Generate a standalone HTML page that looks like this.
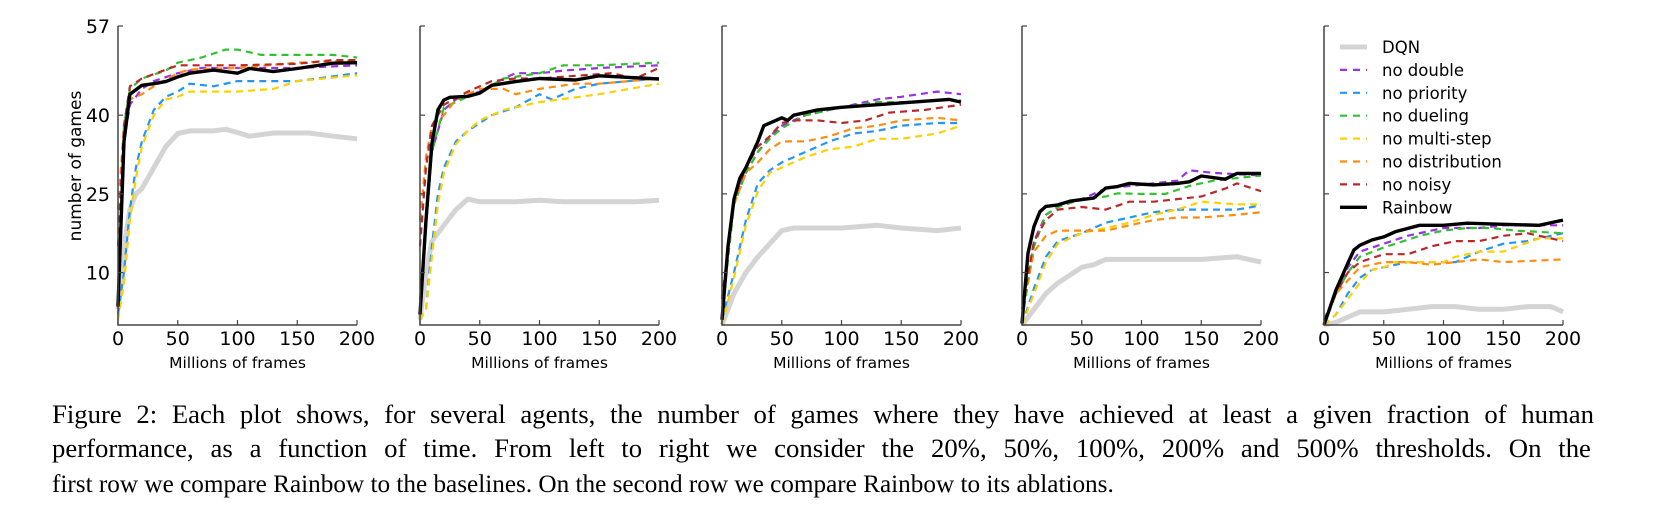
<!DOCTYPE html>
<html><head><meta charset="utf-8"><style>
html,body{margin:0;padding:0;background:#fff;}
svg{display:block;}
</style></head><body>
<svg id="fig" width="1666" height="521" viewBox="0 0 1666 521" xmlns="http://www.w3.org/2000/svg">
<g id="plots"></g>
<g id="legend"></g>
<g id="caption" font-family="'Liberation Serif', serif" font-size="26" fill="#000">
<text id="cap1" x="52" y="423">Figure 2: Each plot shows, for several agents, the number of games where they have achieved at least a given fraction of human</text>
<text id="cap2" x="52" y="457">performance, as a function of time. From left to right we consider the 20%, 50%, 100%, 200% and 500% thresholds. On the</text>
<text id="cap3" x="52" y="492">first row we compare Rainbow to the baselines. On the second row we compare Rainbow to its ablations.</text>
</g>
</svg>
<script>
const xTicks = [0, 50, 100, 150, 200];
const yTicks = [10, 25, 40, 57];
const seriesNames = ["DQN","no double","no priority","no dueling","no multi-step","no distribution","no noisy","Rainbow"];
const thresholds = ["20%","50%","100%","200%","500%"];

// Panel 1 (20%)
const p1_dqn = [[0,3],[5,15],[10,22],[15,25],[20,26],[30,30],[40,34],[50,36.5],[60,37],[80,37],[90,37.3],[100,36.7],[110,36],[130,36.6],[160,36.6],[180,36],[200,35.5]];
const p1_double = [[0,5],[5,35],[10,42],[20,45],[30,46.5],[50,48],[70,49],[100,49],[150,49],[200,49.5]];
const p1_priority = [[0,2],[5,10],[10,22],[15,30],[20,35],[30,41],[40,43.5],[50,44.5],[60,46],[80,45.5],[100,46.5],[150,46.5],[200,48]];
const p1_dueling = [[0,5],[5,38],[10,45],[20,47],[40,48.5],[50,50],[70,51],[90,52.5],[100,52.5],[120,51.5],[150,51.5],[180,51.5],[200,51]];
const p1_multistep = [[0,1],[5,8],[10,20],[15,28],[20,34],[30,40],[40,43],[50,43.5],[60,44.5],[100,44.5],[130,45],[150,46.5],[200,47.6]];
const p1_distribution = [[0,22],[5,38],[10,43],[20,44],[30,45.5],[50,48],[60,48.7],[100,49],[150,50],[200,50.5]];
const p1_noisy = [[0,15],[5,38],[10,45.5],[20,47],[50,49.5],[80,49.5],[100,49.5],[150,49.8],[180,50.5],[200,50.5]];
const p1_rainbow = [[0,3.5],[5,35],[10,44],[20,45.7],[30,46],[40,46.4],[50,47.3],[60,48],[80,48.6],[100,48],[110,48.9],[130,48.3],[150,48.9],[180,49.9],[200,50]];

// Panel 2 (50%)
const p2_dqn = [[0,1],[5,10],[10,16],[15,17.5],[20,19],[30,22],[40,24],[50,23.5],[60,23.5],[80,23.5],[100,23.8],[120,23.5],[150,23.5],[180,23.5],[200,23.8]];
const p2_double = [[0,5],[10,33],[20,41],[30,43],[50,44.5],[70,47],[80,48],[100,48],[120,48.5],[150,49],[200,49.5]];
const p2_priority = [[0,1],[5,3],[10,15],[15,25],[20,30],[30,35],[40,37],[50,38.5],[60,40],[80,41.5],[100,44],[110,43],[130,45],[150,46],[200,47]];
const p2_dueling = [[0,4],[10,33],[20,41.5],[40,43.5],[50,44.5],[70,47],[100,48],[120,49.5],[150,49.5],[200,50]];
const p2_multistep = [[0,1],[5,3],[10,13],[15,23],[20,29],[30,34.5],[40,37],[50,39],[70,41],[100,42.5],[150,44],[200,46]];
const p2_distribution = [[0,20],[5,32],[10,38],[20,40],[30,43],[50,45],[70,45],[80,44],[100,45],[130,46],[150,46],[200,47]];
const p2_noisy = [[0,15],[5,30],[10,38],[20,42],[40,44.5],[60,46.5],[80,47],[100,47],[130,47.5],[160,48],[180,47],[200,49]];
const p2_rainbow = [[0,2],[5,20],[10,34.6],[15,41],[20,42.9],[25,43.4],[40,43.6],[50,44.2],[60,45.7],[80,46.4],[100,47],[130,46.7],[150,47.5],[200,46.9]];

// Panel 3 (100%)
const p3_dqn = [[0,0],[10,6],[20,10],[30,13],[40,15.5],[50,18],[60,18.5],[100,18.5],[130,19],[150,18.5],[180,18],[200,18.5]];
const p3_double = [[0,2],[10,24],[20,29],[30,33],[40,36],[50,38],[70,40],[100,41.5],[130,43],[150,43.5],[180,44.5],[200,44]];
const p3_priority = [[0,1],[10,10],[20,20],[30,27],[40,29.5],[50,31],[70,33],[90,35],[110,36.5],[130,37],[150,38],[180,38.5],[200,38.5]];
const p3_dueling = [[0,2],[10,23],[20,29],[30,33],[40,35.5],[50,37.5],[70,40],[100,41.5],[130,42.5],[160,42.5],[190,43],[200,42.8]];
const p3_multistep = [[0,0],[10,9],[20,19],[30,25.5],[40,29],[50,30],[70,32],[90,33.5],[110,34],[130,35.5],[150,35.5],[180,36.5],[200,38]];
const p3_distribution = [[0,5],[10,23],[20,29],[30,31],[40,33.5],[50,35],[70,35],[90,36],[110,37.5],[130,38],[150,39],[180,39.5],[200,39]];
const p3_noisy = [[0,5],[10,24],[20,30],[30,34],[40,36],[50,38.5],[60,39],[80,39],[100,38.5],[120,39],[140,40.5],[170,41],[200,42]];
const p3_rainbow = [[0,1],[5,15],[10,24],[15,28],[20,30],[30,35],[35,38],[50,39.5],[55,39],[60,40],[80,41],[100,41.5],[130,42],[160,42.5],[190,43],[200,42.5]];

// Panel 4 (200%)
const p4_dqn = [[0,0],[10,3],[20,6],[30,8],[40,9.5],[50,11],[60,11.5],[70,12.5],[100,12.5],[120,12.5],[150,12.5],[180,13],[200,12]];
const p4_double = [[0,1],[10,16],[20,21],[30,22.5],[50,24],[70,26],[90,26.5],[110,27],[130,27.5],[140,29.5],[160,29],[200,28.5]];
const p4_priority = [[0,0],[10,7],[20,13],[30,16],[50,17.5],[70,19.5],[90,20.5],[110,21.5],[130,22],[150,22],[180,22],[200,22.8]];
const p4_dueling = [[0,1],[10,15],[20,21],[30,22.5],[50,24],[70,24.5],[80,25.1],[100,25],[120,25],[140,26.5],[160,27.5],[200,28.5]];
const p4_multistep = [[0,0],[10,6],[20,12],[30,15.5],[50,17.5],[70,18.5],[90,19.5],[110,21],[130,22],[150,23.5],[180,23],[200,23]];
const p4_distribution = [[0,3],[10,14],[20,17],[30,18],[50,18],[70,18],[90,19],[110,20],[130,20.5],[150,20.5],[180,21],[200,21.5]];
const p4_noisy = [[0,3],[10,16],[20,20],[30,22],[50,22.5],[70,22],[90,23.5],[110,23.5],[130,24],[150,24.5],[170,26],[180,27],[200,25.5]];
const p4_rainbow = [[0,0.3],[5,13.7],[10,18.8],[15,21.6],[20,22.6],[30,22.9],[40,23.6],[50,23.9],[60,24.2],[70,26.1],[80,26.4],[90,27],[110,26.7],[130,27],[140,27.3],[150,28.4],[170,27.8],[180,28.9],[200,28.9]];

// Panel 5 (500%)
const p5_dqn = [[0,0],[10,0.5],[20,1.5],[30,2.5],[50,2.5],[70,3],[90,3.5],[110,3.5],[130,3],[150,3],[170,3.5],[190,3.5],[200,2.5]];
const p5_double = [[0,0],[10,6],[20,11],[30,14],[50,15.5],[70,17],[90,18],[100,18.5],[130,18.5],[150,19],[180,19],[200,19]];
const p5_priority = [[0,0],[10,2],[20,6],[30,9],[40,10.5],[50,11],[70,12],[90,12],[110,12],[130,14],[150,15.5],[170,16],[200,17.5]];
const p5_dueling = [[0,0],[10,6],[20,10],[30,13],[50,14.8],[60,15.5],[80,17],[100,18],[120,18.5],[140,18.5],[160,18],[200,17.5]];
const p5_multistep = [[0,0],[10,2],[20,5],[30,8],[40,10.5],[50,11],[60,12],[80,12],[100,12],[110,13],[130,14],[150,14],[180,16.5],[200,16.5]];
const p5_distribution = [[0,0],[10,6],[20,8.5],[30,11],[50,12],[70,12],[90,11.5],[110,12],[130,12.5],[150,12],[200,12.5]];
const p5_noisy = [[0,1],[10,6],[20,10],[30,12],[50,13.5],[70,13.5],[90,15],[110,16],[130,16],[150,17],[170,17.5],[190,16.5],[200,16]];
const p5_rainbow = [[0,0],[10,6.7],[15,9.2],[20,11.8],[25,14.3],[30,15.2],[40,16.2],[50,16.8],[60,17.8],[80,19],[100,19],[120,19.4],[150,19.2],[180,19],[200,20]];

const panels = [
  [p1_dqn,p1_double,p1_priority,p1_dueling,p1_multistep,p1_distribution,p1_noisy,p1_rainbow],
  [p2_dqn,p2_double,p2_priority,p2_dueling,p2_multistep,p2_distribution,p2_noisy,p2_rainbow],
  [p3_dqn,p3_double,p3_priority,p3_dueling,p3_multistep,p3_distribution,p3_noisy,p3_rainbow],
  [p4_dqn,p4_double,p4_priority,p4_dueling,p4_multistep,p4_distribution,p4_noisy,p4_rainbow],
  [p5_dqn,p5_double,p5_priority,p5_dueling,p5_multistep,p5_distribution,p5_noisy,p5_rainbow]
];

const NS = "http://www.w3.org/2000/svg";
const styles = [
  {c:"#d4d4d4", w:5, d:null},
  {c:"#9b30e8", w:2.2, d:"7,5"},
  {c:"#2396f5", w:2.2, d:"7,5"},
  {c:"#33c033", w:2.2, d:"7,5"},
  {c:"#ffd000", w:2.2, d:"7,5"},
  {c:"#ff8c10", w:2.2, d:"7,5"},
  {c:"#b82a2a", w:2.2, d:"7,5"},
  {c:"#000000", w:3.4, d:null}
];
const panelLeft = [118, 420, 722, 1022, 1324];
const plotW = 239, plotTop = 26, plotBottom = 325, yMax = 57, xMax = 200;
function mk(tag, attrs){ const e=document.createElementNS(NS,tag); for(const k in attrs) e.setAttribute(k,attrs[k]); return e; }
const root = document.getElementById('plots');

panels.forEach((series, pi) => {
  const L = panelLeft[pi];
  const xs = v => L + v / xMax * plotW;
  const ys = v => plotBottom - v / yMax * (plotBottom - plotTop);
  const g = mk('g', {});
  
  
  root.appendChild(g);
  series.forEach((pts, si) => {
    const s = styles[si];
    const d = pts.map((p, i) => (i ? 'L' : 'M') + xs(p[0]).toFixed(1) + ',' + ys(p[1]).toFixed(1)).join(' ');
    const path = mk('path', {d: d, fill: 'none', stroke: s.c, 'stroke-width': s.w, 'stroke-linejoin': 'round'});
    if (s.d) path.setAttribute('stroke-dasharray', s.d);
    
    
    g.appendChild(path);
  });
  const ax = mk('path', {d: `M${L},${plotTop} L${L},${plotBottom} L${L+plotW},${plotBottom}`, fill:'none', stroke:'#444', 'stroke-width':1.5});
  
  
  g.appendChild(ax);
  xTicks.forEach(t => {
    const x = xs(t);
    const tk = mk('line', {x1:x, x2:x, y1:plotBottom, y2:plotBottom-5, stroke:'#444', 'stroke-width':1.2});
    
    
    g.appendChild(tk);
    const tl = mk('text', {x:x, y:345, 'text-anchor':'middle', 'font-family':"'DejaVu Sans', sans-serif", 'font-size':19, fill:'#000'});
    tl.textContent = t;
    
    
    g.appendChild(tl);
  });
  yTicks.forEach(t => {
    const y = ys(t);
    const tk = mk('line', {x1:L, x2:L+5, y1:y, y2:y, stroke:'#444', 'stroke-width':1.2});
    
    
    g.appendChild(tk);
    if (pi === 0) {
      const tl = mk('text', {x:L-8, y:y+7, 'text-anchor':'end', 'font-family':"'DejaVu Sans', sans-serif", 'font-size':19, fill:'#000'});
      tl.textContent = t;
      
      
      g.appendChild(tl);
    }
  });
  const xl = mk('text', {x:L+plotW/2, y:368, 'text-anchor':'middle', 'font-family':"'DejaVu Sans', sans-serif", 'font-size':15.5, fill:'#000'});
  xl.textContent = 'Millions of frames';
  
  
  g.appendChild(xl);
  if (pi === 0) {
    const yl = mk('text', {x:0, y:0, transform:'translate(81,166) rotate(-90)', 'text-anchor':'middle', 'font-family':"'DejaVu Sans', sans-serif", 'font-size':17, fill:'#000'});
    yl.textContent = 'number of games';
    
    
    g.appendChild(yl);
  }
});

const lg = document.getElementById('legend');
seriesNames.forEach((n, i) => {
  const y = 47 + i * 22.9;
  const s = styles[i];
  const e = mk('g', {});
  
  
  const ln = mk('line', {x1:1340, x2:1367, y1:y, y2:y, stroke:s.c, 'stroke-width':s.w});
  if (s.d) ln.setAttribute('stroke-dasharray', '7,6');
  
  
  e.appendChild(ln);
  const tx = mk('text', {x:1382, y:y+6, 'font-family':"'DejaVu Sans', sans-serif", 'font-size':16.5, fill:'#000'});
  tx.textContent = n;
  
  
  e.appendChild(tx);
  lg.appendChild(e);
});

// Caption fitting
(function(){
  const cap = document.getElementById('caption');
  const c3 = document.getElementById('cap3');
  const w3 = c3.getComputedTextLength();
  let fs = 26;
  if (w3 > 0) {
    fs = Math.max(22, Math.min(29, 26 * 1062 / w3));
    cap.setAttribute('font-size', fs.toFixed(2));
  }
  [['cap1', 1542], ['cap2', 1539]].forEach(([id, target]) => {
    const t = document.getElementById(id);
    t.setAttribute('font-size', (fs * 1.06).toFixed(2));
    const w = t.getComputedTextLength();
    const n = (t.textContent.match(/ /g) || []).length;
    if (w > 0 && n > 0) {
      const ws = (target - w) / n;
      if (ws > -3) t.setAttribute('word-spacing', ws.toFixed(2));
      else t.setAttribute('textLength', target);
    }
  });
})();
</script>
</body></html>
